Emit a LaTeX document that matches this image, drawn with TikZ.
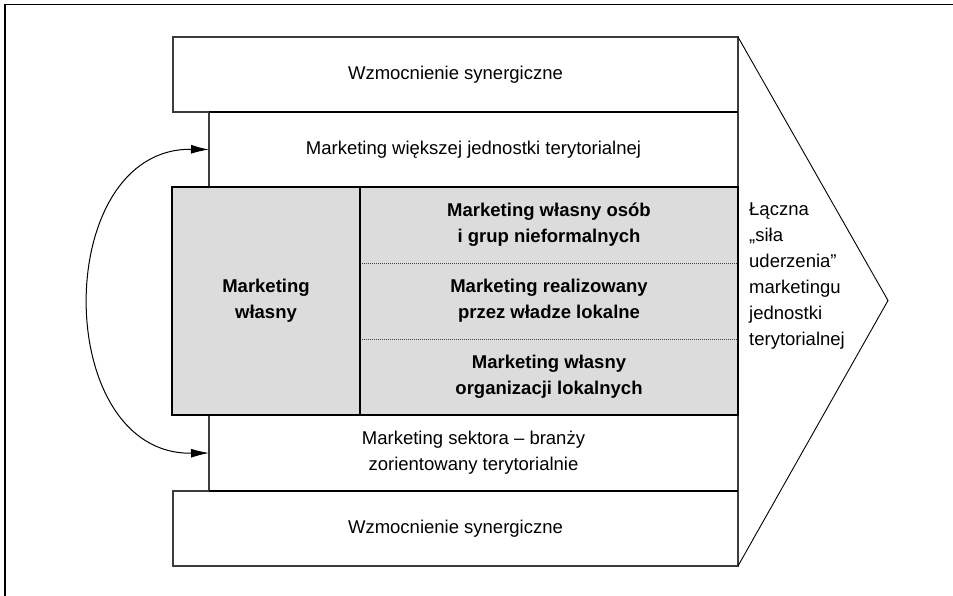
\documentclass[tikz,border=0pt]{standalone}
\usepackage{fontspec}
\setmainfont{Liberation Sans}
\usetikzlibrary{arrows.meta}
\definecolor{panelgrey}{RGB}{220,220,220}
\definecolor{edgegrey}{RGB}{60,60,60}
\begin{document}
\begin{tikzpicture}[x=1pt,y=-1pt,
  font=\fontsize{18.5}{26}\selectfont,
  band/.style={draw=edgegrey, line width=1.2pt, fill=white, inner sep=0pt,
    outer sep=0pt, align=center},
  panel/.style={fill=panelgrey, inner sep=0pt, outer sep=0pt, align=center,
    font=\fontsize{18.5}{26}\selectfont\bfseries},
  heavy/.style={line width=2.4pt, black},
  sep/.style={draw=edgegrey, line width=0.9pt, dash pattern=on 1pt off 1pt},
  link/.style={line width=1pt, {Latex[length=18pt,width=9pt]}-{Latex[length=18pt,width=9pt]}}
]
\useasboundingbox (0,0) rectangle (953,596);

% frame
\draw[line width=1.8pt] (5,596) -- (5,4.5) -- (953,4.5);

% white bands
\node[band, minimum width=565pt, minimum height=75pt] (syn1) at (455.5,74.5)
  {Wzmocnienie synergiczne};
\node[band, minimum width=529pt, minimum height=75pt] (wieksza) at (473.5,149.5)
  {Marketing większej jednostki terytorialnej};
\node[band, minimum width=529pt, minimum height=76pt] (sektor) at (473.5,453)
  {Marketing sektora – branży\\zorientowany terytorialnie};
\node[band, minimum width=565pt, minimum height=75pt] (syn2) at (455.5,528.5)
  {Wzmocnienie synergiczne};

% grey core
\node[panel, minimum width=188pt, minimum height=228pt] (wlasny) at (266,301)
  {Marketing\\własny};
\node[panel, minimum width=378pt, minimum height=76pt] (osoby) at (549,225)
  {Marketing własny osób\\i grup nieformalnych};
\node[panel, minimum width=378pt, minimum height=76pt] (wladze) at (549,301)
  {Marketing realizowany\\przez władze lokalne};
\node[panel, minimum width=378pt, minimum height=76pt] (organizacje) at (549,377)
  {Marketing własny\\organizacji lokalnych};

% dotted separators
\draw[sep] (osoby.south west) -- (osoby.south east);
\draw[sep] (wladze.south west) -- (wladze.south east);

% heavy rules
\draw[heavy] (wieksza.north west) -- (wieksza.north east);
\draw[heavy] (sektor.south west) -- (sektor.south east);
\draw[heavy] (wlasny.north east) -- (wlasny.south east);
\draw[heavy] (wlasny.north west) rectangle (organizacje.south east);

% arrow head shape
\coordinate (tip) at (888,300.5);
\draw[line width=0.9pt] (syn1.north east) -- (tip) -- (syn2.south east);

\node[anchor=west, align=left, inner sep=0pt] (sila) at (749,276)
  {Łączna\\„siła\\uderzenia”\\marketingu\\jednostki\\terytorialnej};

% feedback arrow
\draw[link] (wieksza.west) .. controls +(-158,-2) and +(-158,2) .. (sektor.west);
\end{tikzpicture}
\end{document}
